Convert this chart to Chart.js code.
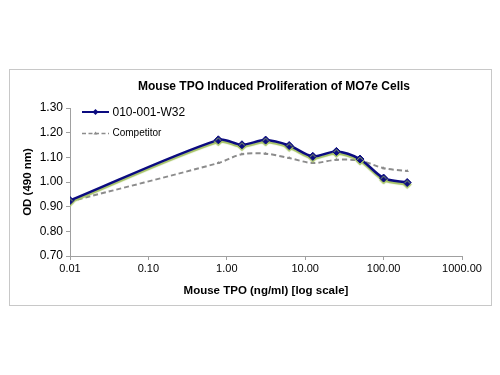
<!DOCTYPE html>
<html><head><meta charset="utf-8">
<script src="https://cdn.jsdelivr.net/npm/chart.js@4.4.1/dist/chart.umd.min.js"></script>
<style>
html,body{margin:0;padding:0;background:#fff;}
#frame{position:absolute;left:9px;top:69px;width:483px;height:237px;border:1px solid #c8c8c8;box-sizing:border-box;}
#wrap{position:absolute;left:10px;top:70px;width:482px;height:236px;}
</style></head>
<body>
<div id="frame"></div>
<div id="wrap"><canvas id="c" width="482" height="236"></canvas></div>
<script>
const chartTitle = 'Mouse TPO Induced Proliferation of MO7e Cells';
const xTitle = 'Mouse TPO (ng/ml) [log scale]';
const yTitle = 'OD (490 nm)';
const seriesNames = ['010-001-W32', 'Competitor'];
const concentrations = [0.01, 0.78, 1.56, 3.13, 6.25, 12.5, 25, 50, 100, 200];
const w32Values = [0.925, 1.171, 1.151, 1.170, 1.148, 1.104, 1.124, 1.093, 1.016, 0.998];
const competitorValues = [0.921, 1.077, 1.113, 1.115, 1.097, 1.077, 1.090, 1.087, 1.056, 1.045];
const xTicks = [0.01, 0.1, 1, 10, 100, 1000];
const yTicks = [0.7, 0.8, 0.9, 1.0, 1.1, 1.2, 1.3];

const FONT = '"Liberation Sans", Arial, sans-serif';
const BLUE = '#0b0b80';
const GRAY = '#8c8c8c';

const toPts = vals => concentrations.map((x, i) => ({x: x, y: vals[i]}));

const shadowPlugin = {
  id: 'shadow',
  beforeDatasetDraw(chart, args) {
    if (args.index === 0) {
      const ctx = chart.ctx;
      ctx.save();
      ctx.shadowColor = '#a4c262';
      ctx.shadowOffsetX = 0;
      ctx.shadowOffsetY = 2;
      ctx.shadowBlur = 1;
    }
  },
  afterDatasetDraw(chart, args) {
    if (args.index === 0) chart.ctx.restore();
  }
};

const decorPlugin = {
  id: 'decor',
  afterDraw(chart) {
    const ctx = chart.ctx;
    ctx.save();
    // title
    ctx.fillStyle = '#000';
    ctx.font = 'bold 12px ' + FONT;
    ctx.textAlign = 'center';
    ctx.textBaseline = 'middle';
    ctx.fillText(chartTitle, 264, 17);
    // legend
    ctx.textAlign = 'left';
    // series 1
    ctx.strokeStyle = BLUE; ctx.lineWidth = 2;
    ctx.beginPath(); ctx.moveTo(72, 42); ctx.lineTo(99, 42); ctx.stroke();
    ctx.fillStyle = BLUE;
    ctx.beginPath(); ctx.moveTo(85.5, 39); ctx.lineTo(88.5, 42); ctx.lineTo(85.5, 45); ctx.lineTo(82.5, 42); ctx.closePath(); ctx.fill();
    ctx.fillStyle = '#000';
    ctx.font = '12px ' + FONT;
    ctx.fillText(seriesNames[0], 102.5, 42.5);
    // series 2
    ctx.strokeStyle = GRAY; ctx.lineWidth = 1.5;
    ctx.setLineDash([4, 2.5]);
    ctx.beginPath(); ctx.moveTo(72, 63.5); ctx.lineTo(99, 63.5); ctx.stroke();
    ctx.setLineDash([]);
    ctx.fillStyle = GRAY;
    ctx.beginPath(); ctx.moveTo(85.5, 61.5); ctx.lineTo(87.5, 64.5); ctx.lineTo(83.5, 64.5); ctx.closePath(); ctx.fill();
    ctx.fillStyle = '#000';
    ctx.font = '10px ' + FONT;
    ctx.fillText(seriesNames[1], 102.5, 63.5);
    ctx.restore();
  }
};

new Chart(document.getElementById('c'), {
  type: 'line',
  data: {
    datasets: [
      {
        label: seriesNames[0], data: toPts(w32Values),
        borderColor: BLUE, backgroundColor: BLUE, borderWidth: 2.5,
        pointStyle: 'rectRot', pointRadius: 4, pointBorderWidth: 1,
        pointBackgroundColor: BLUE, pointBorderColor: BLUE,
        tension: 0.3, fill: false
      },
      {
        label: seriesNames[1], data: toPts(competitorValues),
        borderColor: GRAY, backgroundColor: GRAY, borderWidth: 2,
        borderDash: [5, 3],
        pointStyle: 'triangle', pointRadius: 2, pointBorderWidth: 0,
        pointBackgroundColor: GRAY,
        tension: 0.3, fill: false
      }
    ]
  },
  options: {
    responsive: false,
    animation: false,
    devicePixelRatio: 1,
    layout: { padding: { top: 38, left: 0, right: 30, bottom: 0 } },
    plugins: {
      legend: { display: false },
      title: { display: false },
      tooltip: { enabled: false }
    },
    scales: {
      x: {
        type: 'logarithmic', min: 0.01, max: 1000,
        afterBuildTicks(scale) { scale.ticks = xTicks.map(v => ({value: v})); },
        afterFit(scale) { scale.height = 50; },
        grid: { display: true, drawOnChartArea: false, drawTicks: true, tickLength: 4, color: '#a0a0a0' },
        border: { display: true, color: '#a0a0a0', width: 1 },
        ticks: {
          color: '#000', font: { family: FONT, size: 11 }, padding: 2, maxRotation: 0, autoSkip: false,
          callback: v => Number(v).toFixed(2)
        },
        title: { display: true, text: xTitle, color: '#000', font: { family: FONT, size: 11.5, weight: 'bold' }, padding: { top: 4, bottom: 8 } }
      },
      y: {
        type: 'linear', min: 0.7, max: 1.3,
        afterBuildTicks(scale) { scale.ticks = yTicks.map(v => ({value: v})); },
        afterFit(scale) { scale.width = 60; },
        grid: { display: true, drawOnChartArea: false, drawTicks: true, tickLength: 4, color: '#a0a0a0' },
        border: { display: true, color: '#a0a0a0', width: 1 },
        ticks: {
          color: '#000', font: { family: FONT, size: 12 }, padding: 3,
          callback: v => Number(v).toFixed(2)
        },
        title: { display: true, text: yTitle, color: '#000', font: { family: FONT, size: 11.5, weight: 'bold' }, padding: { top: 11, bottom: 2 } }
      }
    }
  },
  plugins: [shadowPlugin, decorPlugin]
});
</script>
</body></html>
